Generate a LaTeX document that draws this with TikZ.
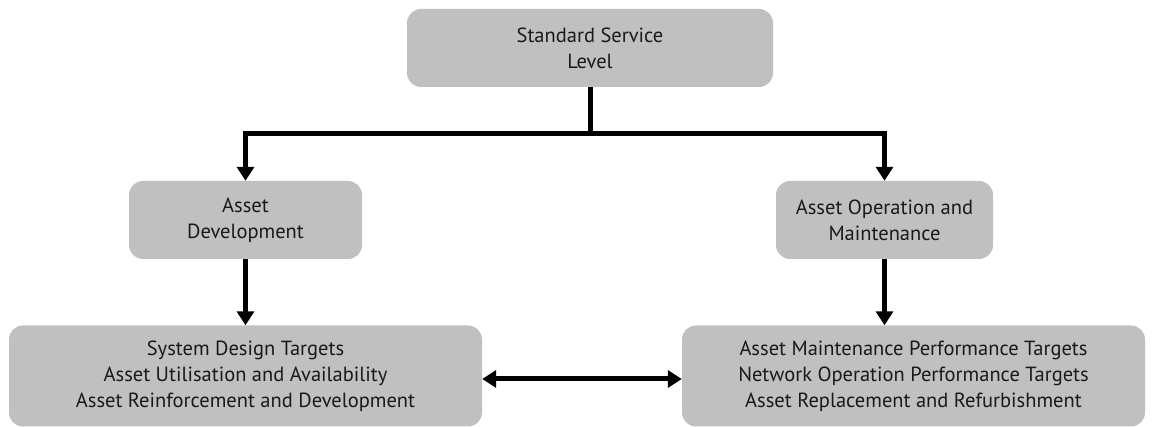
\documentclass[tikz,border=0pt]{standalone}
\usepackage{fontspec}
\setmainfont{PT Sans}
\usetikzlibrary{arrows.meta}
\definecolor{boxgray}{RGB}{192,192,192}
\definecolor{txt}{RGB}{25,25,25}
\begin{document}
\begin{tikzpicture}[x=1pt,y=-1pt,
  box/.style={fill=boxgray,rounded corners=14pt,align=center,inner sep=0pt,
    text=txt,font=\fontsize{20.5}{26}\selectfont},
  link/.style={line width=5pt},
  arr/.style={link,-{Triangle[length=14pt,width=17pt]}},
  both/.style={link,{Triangle[length=14pt,width=17pt]}-{Triangle[length=14pt,width=17pt]}}]
\useasboundingbox (0,0) rectangle (1152,427);
\node[box,minimum width=366pt,minimum height=78pt] (top) at (590,48) {Standard Service\\Level};
\node[box,minimum width=233pt,minimum height=78pt] (dev) at (245.5,220) {Asset\\Development};
\node[box,minimum width=217pt,minimum height=78pt] (op) at (884.5,220) {Asset Operation and\\Maintenance};
\node[box,minimum width=473pt,minimum height=101pt] (tl) at (245.5,376) {System Design Targets\\Asset Utilisation and Availability\\Asset Reinforcement and Development};
\node[box,minimum width=463pt,minimum height=101pt] (tr) at (913.5,376) {Asset Maintenance Performance Targets\\Network Operation Performance Targets\\Asset Replacement and Refurbishment};
\coordinate (j) at (590,134);
\draw[link] (top.south) -- (j);
\draw[arr] (j) -| (dev.north);
\draw[arr] (j) -| (op.north);
\draw[arr] (dev.south) -- (tl.north);
\draw[arr] (op.south) -- (op.south |- tr.north);
\draw[both] (tl.east |- 0,379) -- (tr.west |- 0,379);
\end{tikzpicture}
\end{document}
